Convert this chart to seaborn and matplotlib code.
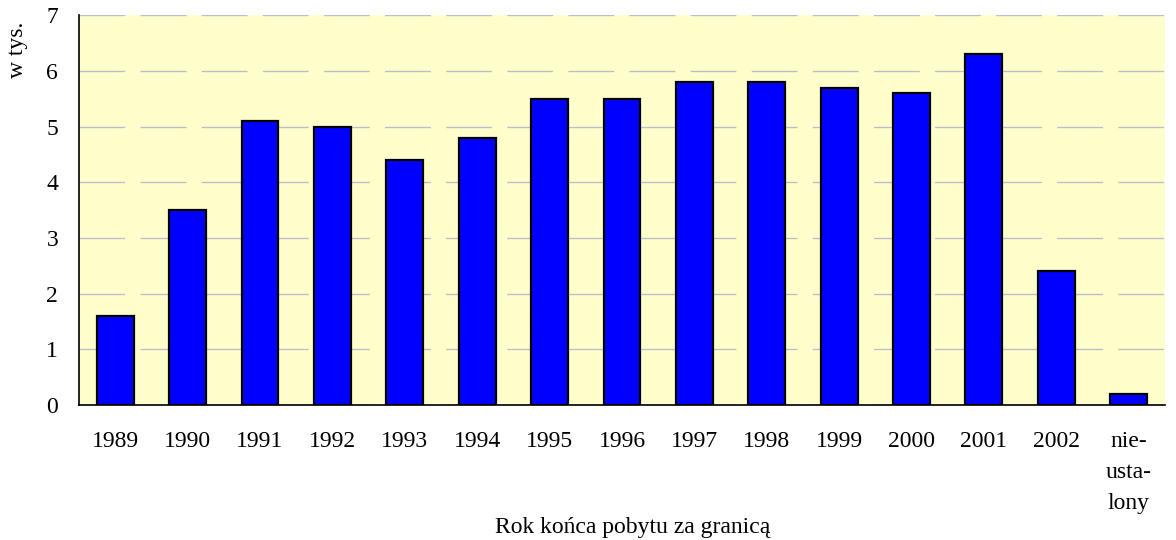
import numpy as np
import pandas as pd
import matplotlib
matplotlib.use("Agg")
import matplotlib.pyplot as plt
import seaborn as sns

# dane (w tys.)
lata = ["1989", "1990", "1991", "1992", "1993", "1994", "1995", "1996",
        "1997", "1998", "1999", "2000", "2001", "2002", "nie-\nusta-\nlony"]
wartosci = [1.6, 3.5, 5.1, 5.0, 4.4, 4.8, 5.5, 5.5, 5.8, 5.8, 5.7, 5.6, 6.3, 2.4, 0.2]
y_ticks = [0, 1, 2, 3, 4, 5, 6, 7]

df = pd.DataFrame({"rok": lata, "liczba": wartosci})

sns.set_style("white")
plt.rcParams["font.family"] = ["Liberation Serif", "DejaVu Serif"]
plt.rcParams["text.color"] = "black"
plt.rcParams["xtick.color"] = "black"
plt.rcParams["ytick.color"] = "black"
plt.rcParams["axes.labelcolor"] = "black"

fig = plt.figure(figsize=(11.76, 5.4), dpi=100)
ax = fig.add_axes([0.0672, 0.25, 0.9234, 0.722])
ax.set_facecolor("#FFFFCC")

sns.barplot(data=df, x="rok", y="liczba", color="#0000FF", saturation=1,
            width=0.51, edgecolor="black", linewidth=1.6, ax=ax, zorder=3)

ax.set_ylim(0, 7)
ax.set_xlim(-0.5, len(lata) - 0.5)
ax.set_yticks(y_ticks)
ax.set_yticklabels([str(t) for t in y_ticks], fontsize=17)

# ticki na granicach kategorii, etykiety w srodku
ax.set_xticks(np.arange(len(lata) + 1) - 0.5)
ax.set_xticklabels([])
ax.set_xticks(np.arange(len(lata)), minor=True)
ax.set_xticklabels(lata, minor=True, fontsize=17, linespacing=1.62, va="top")
ax.tick_params(axis="x", which="minor", length=0, pad=19)
ax.tick_params(axis="x", which="major", length=6, width=1, color="black", direction="out")
ax.tick_params(axis="y", length=6, width=1, color="black", direction="out", pad=9)

ax.yaxis.grid(True, color="#BDBDCB", linewidth=1, linestyle=(0, (33, 11)), zorder=0)
ax.set_axisbelow(True)

for s in ["top", "right"]:
    ax.spines[s].set_visible(False)
for s in ["left", "bottom"]:
    ax.spines[s].set_color("black")
    ax.spines[s].set_linewidth(1.2)

ax.set_xlabel("Rok końca pobytu za granicą", fontsize=17)
ax.xaxis.set_label_coords(0.51, -0.287)
ax.set_ylabel("w tys.", fontsize=17)
ax.yaxis.set_label_coords(-0.047, 0.91)

fig.savefig("out.png", dpi=100)
